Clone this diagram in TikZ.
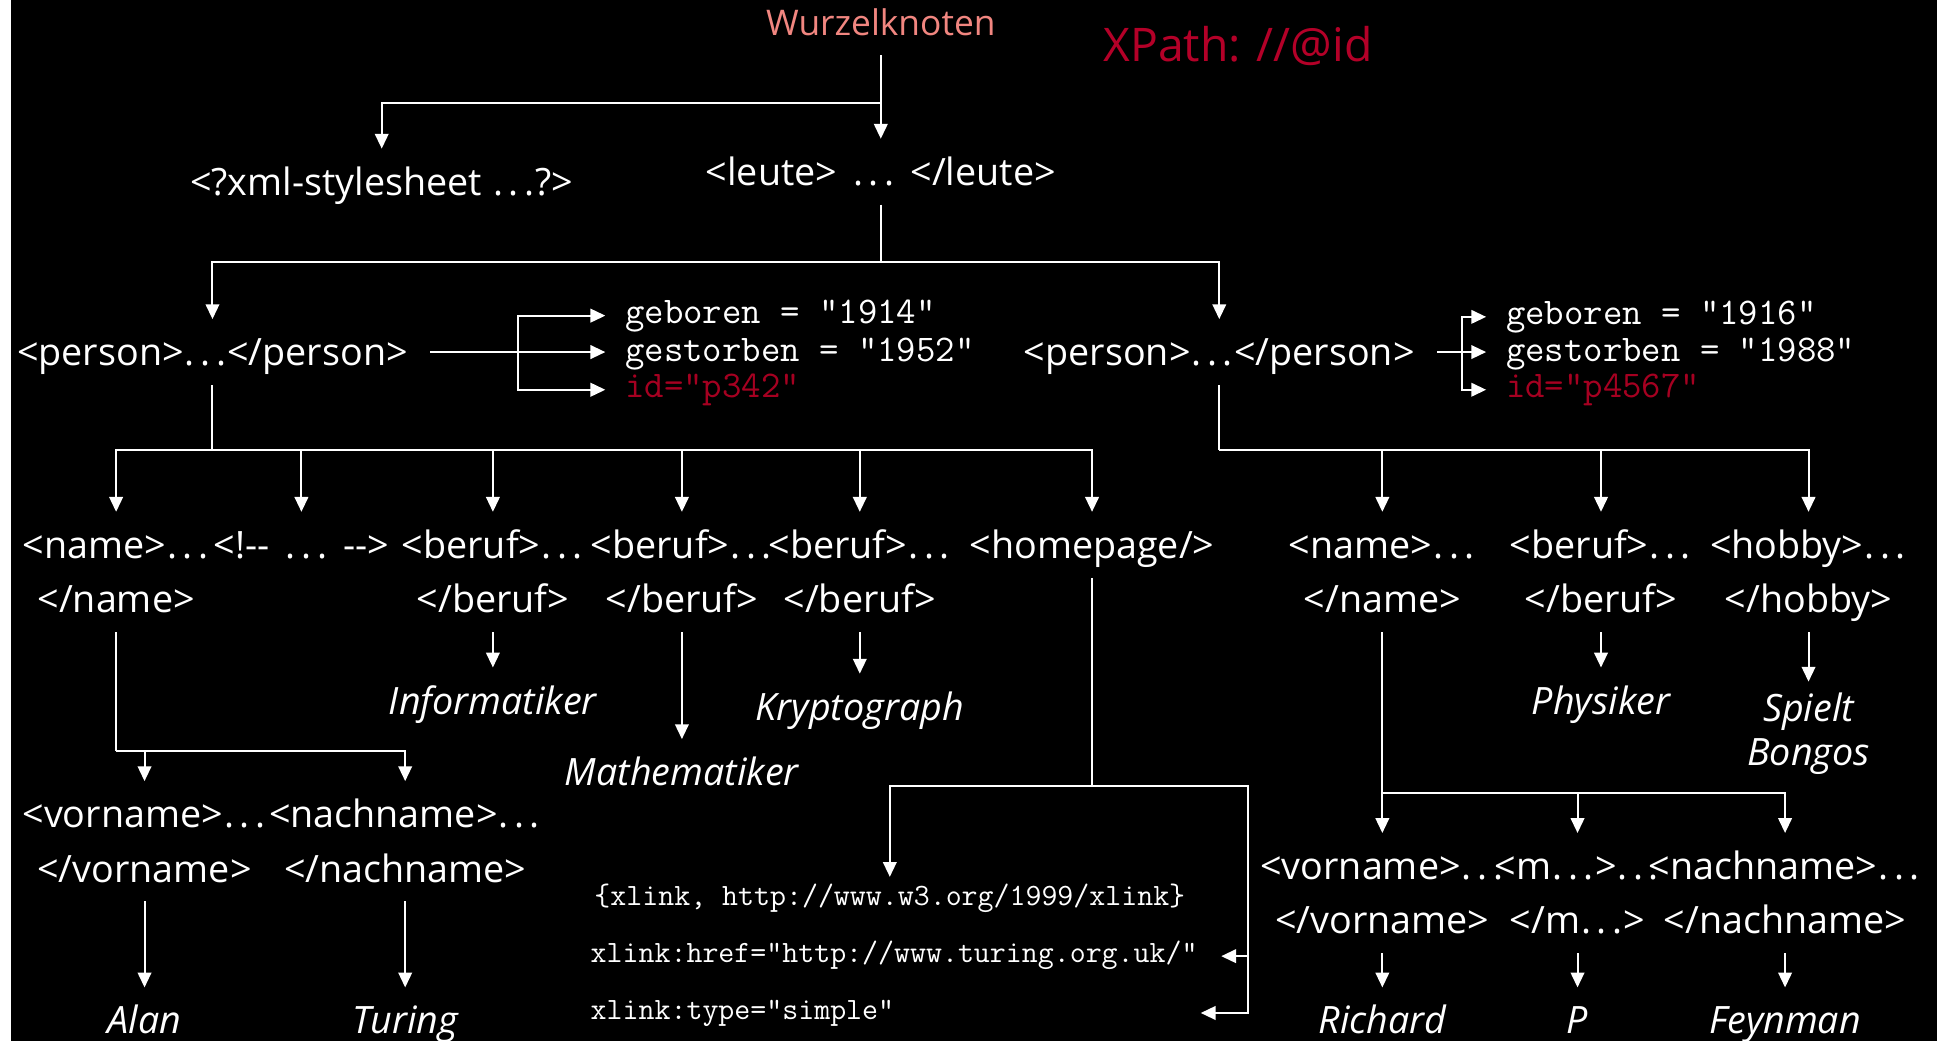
\documentclass[tikz,border=0pt]{standalone}
\usepackage{fontspec}
\setmainfont{Open Sans}
\usetikzlibrary{arrows.meta}
\definecolor{rootc}{RGB}{241,134,128}
\definecolor{xpathc}{RGB}{180,0,40}
\definecolor{idc}{RGB}{165,0,33}
\newcommand\dotz{{\kern1pt.\kern4.5pt.\kern4.5pt.\kern1pt}}
\newcommand\wsp{\hspace{12pt}}
\begin{document}
\begin{tikzpicture}[x=1pt,y=-1pt,
  tag/.style={text=white, font=\fontsize{30.5}{36}\selectfont, inner xsep=18pt, inner ysep=15.5pt, text height=22pt, text depth=0pt, anchor=base},
  lbl/.style={tag, font=\itshape\fontsize{30.5}{36}\selectfont},
  attr/.style={font=\ttfamily\fontsize{30.5}{31}\selectfont, text=white, inner xsep=16pt, inner ysep=0pt, text height=13pt, text depth=0pt, anchor=base west},
  xl/.style={font=\ttfamily\fontsize{25.1}{26}\selectfont, text=white, inner xsep=19pt, inner ysep=13pt, text height=10pt, text depth=0pt, anchor=base west},
  ln/.style={draw=white, line width=1.6pt},
  arr/.style={ln, -{Triangle[width=11pt,length=12pt]}}]
% background
\fill[white] (0,0) rectangle (1568,843);
\fill[black] (9,0) rectangle (1568,843);
\useasboundingbox (0,0) rectangle (1568,843);

% top
\node[tag, text=rootc, font=\fontsize{28.6}{32}\selectfont] (root) at (713,29) {Wurzelknoten};
\node[text=xpathc, font=\fontsize{37.5}{40}\selectfont, anchor=base west, inner sep=0pt] (xpath) at (893,50) {XPath: //@id};
\node[tag] (xml) at (309,158) {<?xml-stylesheet \dotz?>};
\node[tag] (leute) at (713,150) {<leute>\wsp\dotz\wsp</leute>};
\node[tag] (p1) at (172,296) {<person>\dotz</person>};
\node[tag] (p2) at (987,296) {<person>\dotz</person>};

% attributes
\node[attr] (a1) at (490,262) {geboren = "1914"};
\node[attr] (a2) at (490,293) {gestorben = "1952"};
\node[attr, text=idc] (a3) at (490,322) {id="p342"};
\node[attr] (b1) at (1203,263) {geboren = "1916"};
\node[attr] (b2) at (1203,293) {gestorben = "1988"};
\node[attr, text=idc] (b3) at (1203,322) {id="p4567"};

% children of person 1
\node[tag] (n1) at (94,452) {<name>\dotz};
\node[tag] (n1c) at (94,496) {</name>};
\node[tag] (cm) at (244,452) {<!-{}-\wsp\dotz\wsp-{}->};
\node[tag] (bf1) at (399,452) {<beruf>\dotz};
\node[tag] (bf1c) at (399,496) {</beruf>};
\node[tag] (bf2) at (552,452) {<beruf>\dotz};
\node[tag] (bf2c) at (552,496) {</beruf>};
\node[tag] (bf3) at (696,452) {<beruf>\dotz};
\node[tag] (bf3c) at (696,496) {</beruf>};
\node[tag] (hp) at (884,452) {<homepage/>};

\node[lbl] (inf) at (399,578) {Informatiker};
\node[lbl] (math) at (552,636) {Mathematiker};
\node[lbl] (kry) at (696,583) {Kryptograph};

\node[tag] (v1) at (117,670) {<vorname>\dotz};
\node[tag] (v1c) at (117,714) {</vorname>};
\node[tag] (nn1) at (328,670) {<nachname>\dotz};
\node[tag] (nn1c) at (328,714) {</nachname>};
\node[lbl] (alan) at (117,837) {Alan};
\node[lbl] (tur) at (328,837) {Turing};

\node[xl] (x1) at (462,733) {\{xlink, http://www.w3.org/1999/xlink\}};
\node[xl] (x2) at (459,779) {xlink:href="http://www.turing.org.uk/"};
\node[xl] (x3) at (459,825) {xlink:type="simple"};
\coordinate (x3tip) at (972,820);

% children of person 2
\node[tag] (n2) at (1119,452) {<name>\dotz};
\node[tag] (n2c) at (1119,496) {</name>};
\node[tag] (bf4) at (1296,452) {<beruf>\dotz};
\node[tag] (bf4c) at (1296,496) {</beruf>};
\node[tag] (hob) at (1464,452) {<hobby>\dotz};
\node[tag] (hobc) at (1464,496) {</hobby>};
\node[lbl] (phy) at (1296,578) {Physiker};
\node[lbl, inner ysep=10pt] (spi) at (1464,584) {Spielt};
\node[lbl] (bong) at (1464,620) {Bongos};

\node[tag] (v2) at (1119,712) {<vorname>\dotz};
\node[tag] (v2c) at (1119,756) {</vorname>};
\node[tag] (m2) at (1277,712) {<m\dotz>\dotz};
\node[tag] (m2c) at (1277,756) {</m\dotz>};
\node[tag] (nn2) at (1445,712) {<nachname>\dotz};
\node[tag] (nn2c) at (1445,756) {</nachname>};
\node[lbl] (ric) at (1119,837) {Richard};
\node[lbl] (pp) at (1277,837) {P};
\node[lbl] (fey) at (1445,837) {Feynman};

% connectors: top
\coordinate (bus0) at (713,83);
\draw[arr] (root.south) -- (leute.north);
\draw[arr] (bus0) -| (xml.north);
\coordinate (bus1) at (713,212);
\draw[arr] (leute.south) -- (bus1) -| (p1.north);
\draw[arr] (bus1) -| (p2.north);

% attributes
\path (p1.east) -- ++(71,0) coordinate (j1);
\draw[ln] (p1.east) -- (j1);
\draw[arr] (j1) |- (a1.west);
\draw[arr] (j1) -- (j1 -| a2.west);
\draw[arr] (j1) |- (a3.west);
\path (p2.east) -- ++(20,0) coordinate (j2);
\draw[ln] (p2.east) -- (j2);
\draw[arr] (j2) |- (b1.west);
\draw[arr] (j2) -- (j2 -| b2.west);
\draw[arr] (j2) |- (b3.west);

% person 1 children
\coordinate (bus2) at (172,364);
\draw[ln] (p1.south) -- (bus2);
\foreach \c in {n1,cm,bf1,bf2,bf3,hp} \draw[arr] (bus2) -| (\c.north);
\draw[arr] (bf1c.south) -- (inf.north);
\draw[arr] (bf2c.south) -- (math.north);
\draw[arr] (bf3c.south) -- (kry.north);
\coordinate (bus3) at (94,608);
\draw[ln] (n1c.south) -- (bus3);
\draw[arr] (bus3) -| (v1.north);
\draw[arr] (bus3) -| (nn1.north);
\draw[arr] (v1c.south) -- (alan.north);
\draw[arr] (nn1c.south) -- (tur.north);

% homepage
\coordinate (hb) at (884,636);
\coordinate (hr) at (1010,636);
\draw[arr] (hp.south) -- (hb) -| (x1.north);
\draw[arr] (hb) -- (hr) |- (x2.east);
\draw[arr] (hr) |- (x3tip);

% person 2 children
\coordinate (bus4) at (987,364);
\draw[ln] (p2.south) -- (bus4);
\foreach \c in {n2,bf4,hob} \draw[arr] (bus4) -| (\c.north);
\draw[arr] (bf4c.south) -- (phy.north);
\draw[arr] (hobc.south) -- (spi.north);
\coordinate (bus5) at (1119,642);
\draw[arr] (n2c.south) -- (v2.north);
\draw[arr] (bus5) -| (m2.north);
\draw[arr] (bus5) -| (nn2.north);
\draw[arr] (v2c.south) -- (ric.north);
\draw[arr] (m2c.south) -- (pp.north);
\draw[arr] (nn2c.south) -- (fey.north);
\end{tikzpicture}
\end{document}
